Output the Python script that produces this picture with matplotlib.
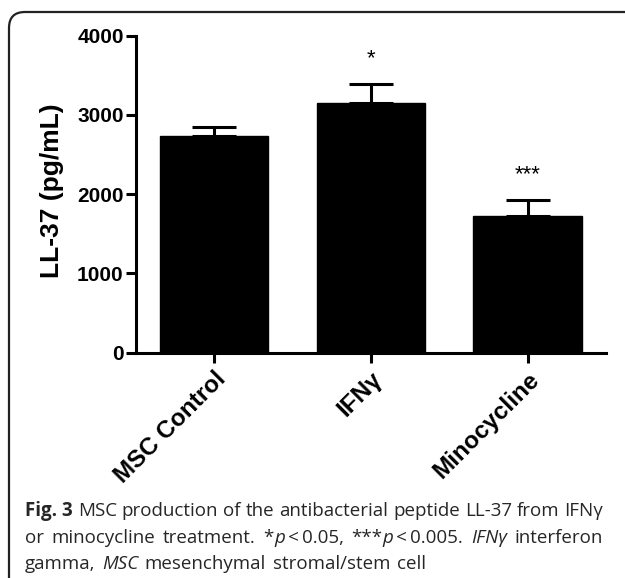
import matplotlib
matplotlib.use("Agg")
import matplotlib.pyplot as plt
from matplotlib.patches import FancyBboxPatch

# data
groups = ["MSC Control", "IFNγ", "Minocycline"]
means = [2733, 3147, 1724]
errs = [115, 237, 197]
stars = ["", "*", "***"]
yticks = [0, 1000, 2000, 3000, 4000]

caption_lines = [
    [[("Fig. 3", "bold", "normal")], [("MSC", "normal", "normal")],
     [("production", "normal", "normal")], [("of", "normal", "normal")],
     [("the", "normal", "normal")], [("antibacterial", "normal", "normal")],
     [("peptide", "normal", "normal")], [("LL-37", "normal", "normal")],
     [("from", "normal", "normal")], [("IFNγ", "normal", "normal")]],
    [[("or", "normal", "normal")], [("minocycline", "normal", "normal")],
     [("treatment.", "normal", "normal")],
     [("*", "normal", "normal"), ("p", "normal", "italic"), ("\u2009<\u20090.05,", "normal", "normal")],
     [("***", "normal", "normal"), ("p", "normal", "italic"), ("\u2009<\u20090.005.", "normal", "normal")],
     [("IFNγ", "normal", "italic")], [("interferon", "normal", "normal")]],
    [[("gamma,", "normal", "normal")], [("MSC", "normal", "italic")],
     [("mesenchymal", "normal", "normal")], [("stromal/stem", "normal", "normal")],
     [("cell", "normal", "normal")]],
]

W, H = 625, 578
fig = plt.figure(figsize=(W / 100, H / 100), dpi=100)
fig.patch.set_facecolor("white")

# rounded frame, cut by the right and bottom edges like the reference
frame = FancyBboxPatch((9 / 100, -0.5), 7.0, (H - 12) / 100 + 0.5,
                       boxstyle="round,pad=0,rounding_size=0.16",
                       transform=fig.dpi_scale_trans, fill=False,
                       edgecolor="#222222", linewidth=1.6, clip_on=False)
fig.add_artist(frame)

ax = fig.add_axes([135.5 / W, 1 - 352.5 / H, (606 - 135.5) / W, (352.5 - 35.7) / H])
x = range(len(groups))
ax.bar(x, means, width=0.69, color="black", edgecolor="black",
       yerr=[[0] * len(errs), errs], capsize=15.5,
       error_kw=dict(elinewidth=2.2, capthick=2.2, ecolor="black"))

lab_font = "Liberation Sans"
for i, s in enumerate(stars):
    if s:
        ax.text(i, means[i] + errs[i] + 330, s, ha="center", va="center",
                fontsize=16, family=lab_font)

ax.set_xlim(-0.5, 2.5)
ax.set_ylim(0, 4000)
ax.set_yticks(yticks)
ax.set_yticklabels([str(t) for t in yticks], fontsize=15, fontweight="bold",
                   family=lab_font)
ax.set_xticks(list(x))
ax.set_xticklabels(groups, rotation=45, ha="right", rotation_mode="anchor",
                   fontsize=17.5, fontweight="bold", family=lab_font)
ax.set_ylabel("LL-37 (pg/mL)", fontsize=19, fontweight="bold", family=lab_font)
ax.yaxis.set_label_coords(-0.152, 0.51)
for side in ["top", "right"]:
    ax.spines[side].set_visible(False)
for side in ["left", "bottom"]:
    ax.spines[side].set_linewidth(2.2)
ax.tick_params(axis="y", length=7.5, width=2.2, pad=1)
ax.tick_params(axis="x", length=7, width=2.2, pad=4)
ax.set_facecolor("none")

# caption, justified word by word
cap_font = "Open Sans"
cap_size = 13.5
x0, x1 = 25 / W, 603 / W
baselines = [516, 543, 569]
renderer = fig.canvas.get_renderer()
for li, units in enumerate(caption_lines):
    y = 1 - baselines[li] / H
    drawn = []
    for unit in units:
        pieces = []
        for txt, wt, st in unit:
            t = fig.text(0, y, txt, fontsize=cap_size, fontweight=wt, fontstyle=st,
                         family=cap_font, color="#262626", va="baseline", ha="left")
            pieces.append(t)
        drawn.append(pieces)
    widths = []
    for pieces in drawn:
        ws = [p.get_window_extent(renderer).width / W for p in pieces]
        widths.append(ws)
    total = sum(sum(ws) for ws in widths)
    if li < len(caption_lines) - 1:
        gap = (x1 - x0 - total) / (len(drawn) - 1)
    else:
        gap = 6.5 / W
    cx = x0
    for pieces, ws in zip(drawn, widths):
        for p, w in zip(pieces, ws):
            p.set_x(cx)
            cx += w
        cx += gap

fig.savefig("out.png", dpi=100)
